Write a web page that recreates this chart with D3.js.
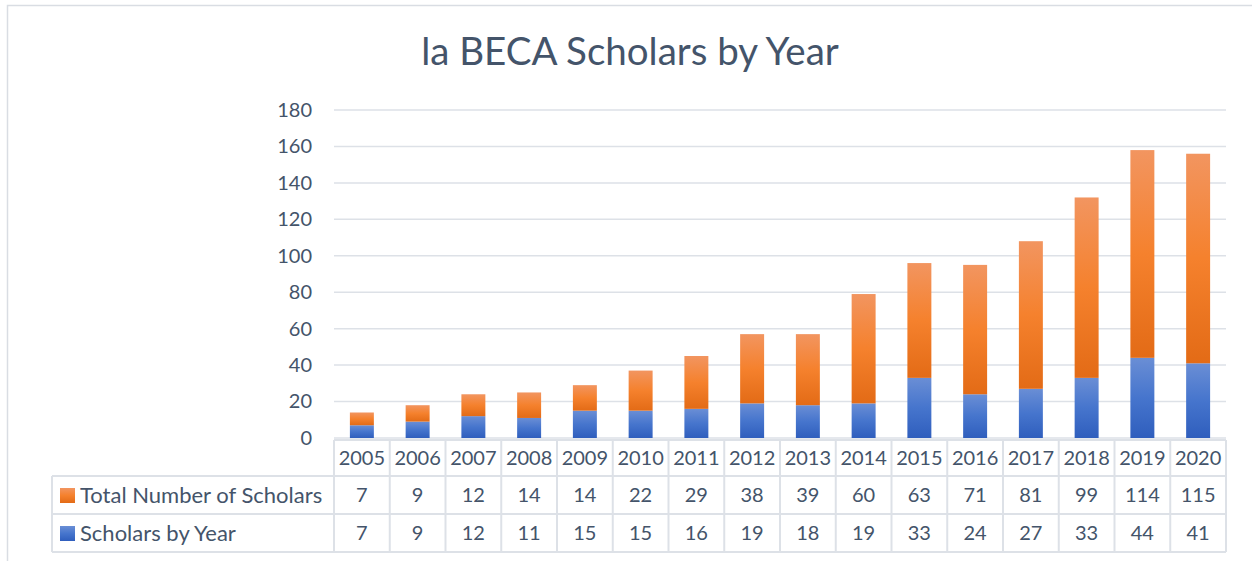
<!DOCTYPE html>
<html lang="en">
<head>
  <meta charset="UTF-8">
  <title>la BECA Scholars by Year</title>
  <script src="https://d3js.org/d3.v7.min.js"></script>
  <style>
    body { margin: 0; background: #fff; }
    text { font-family: Lato, "Open Sans", sans-serif; fill: #44546a; }
  </style>
</head>
<body>
  <div id="viz"></div>

  <script>
    // Data
    const years = ['2005','2006','2007','2008','2009','2010','2011','2012','2013','2014','2015','2016','2017','2018','2019','2020'];
    const scholarsByYear = [7, 9, 12, 11, 15, 15, 16, 19, 18, 19, 33, 24, 27, 33, 44, 41];
    const totalScholars = [7, 9, 12, 14, 14, 22, 29, 38, 39, 60, 63, 71, 81, 99, 114, 115];
    const yTicks = [0, 20, 40, 60, 80, 100, 120, 140, 160, 180];

    const W = 1252, H = 561;
    const plot = { left: 334, right: 1226, top: 110, bottom: 438 };
    const gridColor = '#dde1e7';

    const svg = d3.select('#viz').append('svg')
      .attr('width', W).attr('height', H);

    // gradients for the bars
    const defs = svg.append('defs');
    const grad = (id, stops) => {
      const g = defs.append('linearGradient').attr('id', id)
        .attr('x1', 0).attr('y1', 0).attr('x2', 0).attr('y2', 1);
      stops.forEach(s => g.append('stop').attr('offset', s[0]).attr('stop-color', s[1]));
    };
    grad('gOrange', [[0, '#f29560'], [0.5, '#f5812d'], [1, '#e36b16']]);
    grad('gBlue', [[0, '#6a8ed5'], [0.5, '#4675cd'], [1, '#2f5ebd']]);

    // outer chart border
    svg.append('rect')
      .attr('x', 7.5).attr('y', 5.5).attr('width', 1300).attr('height', 600)
      .attr('fill', 'none').attr('stroke', '#d9dde3').attr('stroke-width', 1.5);

    // title
    svg.append('text')
      .attr('x', 630).attr('y', 65)
      .attr('text-anchor', 'middle')
      .style('font-size', '38.5px')
      .text('la BECA Scholars by Year');

    const x = d3.scaleBand()
      .domain(years)
      .range([plot.left, plot.right])
      .paddingInner(0.57).paddingOuter(0.285);

    const y = d3.scaleLinear()
      .domain([0, 180])
      .range([plot.bottom, plot.top]);

    // gridlines
    svg.append('g')
      .selectAll('line')
      .data(yTicks)
      .join('line')
        .attr('x1', plot.left).attr('x2', plot.right)
        .attr('y1', d => y(d)).attr('y2', d => y(d))
        .attr('stroke', gridColor).attr('stroke-width', 1.5);

    // y axis labels
    const yAxis = svg.append('g')
      .attr('transform', `translate(${plot.left - 22},0)`)
      .call(d3.axisLeft(y).tickValues(yTicks).tickSize(0).tickPadding(0));
    yAxis.select('.domain').remove();
    yAxis.selectAll('text')
      .attr('fill', '#44546a')
      .style('font-size', '20px')
      .style('font-family', 'Lato, "Open Sans", sans-serif');

    // stacked bars: blue on the bottom, orange on top
    const rows = years.map((yr, i) => ({ year: yr, scholars: scholarsByYear[i], total: totalScholars[i] }));
    const stack = d3.stack().keys(['scholars', 'total'])(rows);
    const fills = { scholars: 'url(#gBlue)', total: 'url(#gOrange)' };

    svg.append('g')
      .selectAll('g')
      .data(stack)
      .join('g')
        .attr('fill', s => fills[s.key])
      .selectAll('rect')
      .data(s => s)
      .join('rect')
        .attr('x', d => x(d.data.year))
        .attr('width', x.bandwidth())
        .attr('y', d => y(d[1]))
        .attr('height', d => y(d[0]) - y(d[1]));

    // data table under the chart
    const step = x.step();
    const colLeft = yr => x(yr) - x.paddingOuter() * step;
    const rowY = [440, 476, 514, 552];
    const legendLeft = 52;
    const table = svg.append('g').attr('stroke', gridColor).attr('stroke-width', 2);

    // horizontal lines
    table.append('line').attr('x1', plot.left).attr('x2', plot.right).attr('y1', rowY[0]).attr('y2', rowY[0]);
    rowY.slice(1).forEach(ry => {
      table.append('line').attr('x1', legendLeft).attr('x2', plot.right).attr('y1', ry).attr('y2', ry);
    });
    // vertical lines
    years.forEach(yr => {
      table.append('line').attr('x1', colLeft(yr)).attr('x2', colLeft(yr)).attr('y1', rowY[0]).attr('y2', rowY[3]);
    });
    table.append('line').attr('x1', plot.right).attr('x2', plot.right).attr('y1', rowY[0]).attr('y2', rowY[3]);
    table.append('line').attr('x1', legendLeft).attr('x2', legendLeft).attr('y1', rowY[1]).attr('y2', rowY[3]);

    const cellText = (vals, r) => {
      svg.append('g')
        .selectAll('text')
        .data(vals)
        .join('text')
          .attr('x', (d, i) => x(years[i]) + x.bandwidth() / 2)
          .attr('y', (rowY[r] + rowY[r + 1]) / 2 + 7)
          .attr('text-anchor', 'middle')
          .style('font-size', '20px')
          .text(d => d);
    };
    cellText(years, 0);
    cellText(totalScholars, 1);
    cellText(scholarsByYear, 2);

    // legend keys in the table
    const legend = [
      { name: 'Total Number of Scholars', fill: 'url(#gOrange)' },
      { name: 'Scholars by Year', fill: 'url(#gBlue)' }
    ];
    legend.forEach((l, i) => {
      const cy = (rowY[i + 1] + rowY[i + 2]) / 2;
      svg.append('rect')
        .attr('x', 60).attr('y', cy - 7).attr('width', 15).attr('height', 15)
        .attr('fill', l.fill);
      svg.append('text')
        .attr('x', 80).attr('y', cy + 8)
        .style('font-size', '22px')
        .text(l.name);
    });
  </script>
</body>
</html>
